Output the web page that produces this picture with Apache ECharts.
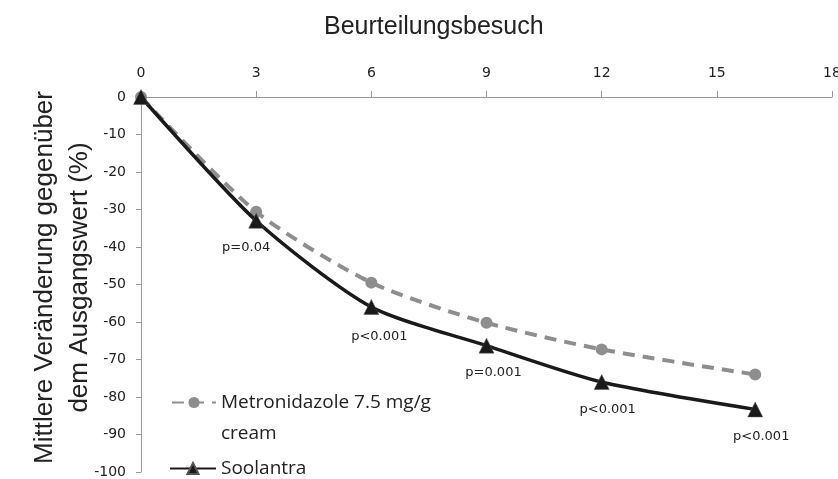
<!DOCTYPE html>
<html>
<head>
<meta charset="utf-8">
<script src="https://cdn.jsdelivr.net/npm/echarts@6/dist/echarts.min.js"></script>
<style>html,body{margin:0;padding:0;background:#fff}#c{width:838px;height:479px}</style>
</head>
<body>
<div id="c"></div>
<script>
const visits = [0, 3, 6, 9, 12, 16];
const metronidazole = [0, -30.6, -49.5, -60.2, -67.3, -74];
const soolantra = [0, -33, -56, -66.3, -76, -83.3];
const pValues = ['', 'p=0.04', 'p<0.001', 'p=0.001', 'p<0.001', 'p<0.001'];
const seriesNames = ['Metronidazole 7.5 mg/g\ncream', 'Soolantra'];

const pOffsets = [[0,0], [-10,0], [8,2], [7,0], [6,0], [6,0]];
const chart = echarts.init(document.getElementById('c'));
const tickFont = 'DejaVu Sans';
const legendText = { fontFamily: 'Open Sans', fontSize: 19, color: '#222', lineHeight: 31 };
chart.setOption({
  backgroundColor: '#fff',
  animation: false,
  title: {
    text: 'Beurteilungsbesuch', left: 319, top: 10,
    textStyle: { fontFamily: 'Liberation Sans', fontSize: 25, fontWeight: 'normal', color: '#222' }
  },
  grid: { left: 141, right: 6, top: 97, bottom: 7, outerBoundsMode: 'none', containLabel: false },
  legend: [
    {
      left: 166, top: 351, itemWidth: 44, itemHeight: 14,
      textStyle: legendText,
      formatter: n => ' \n' + n,
      data: [seriesNames[0]]
    },
    {
      left: 164, top: 448, itemWidth: 46, itemHeight: 14,
      textStyle: legendText,
      data: [seriesNames[1]]
    }
  ],
  xAxis: {
    type: 'value', position: 'top', min: 0, max: 18, interval: 3,
    axisLine: { show: true, lineStyle: { color: '#999', width: 1 } },
    axisTick: { show: true, length: 6, lineStyle: { color: '#999' } },
    axisLabel: { fontFamily: tickFont, fontSize: 14, color: '#222', margin: 17 },
    splitLine: { show: false }
  },
  yAxis: {
    type: 'value', min: -100, max: 0, interval: 10,
    name: 'Mittlere Veränderung gegenüber\ndem Ausgangswert (%)',
    nameLocation: 'middle', nameGap: 44, nameRotate: 90, nameMoveOverlap: false,
    nameTextStyle: { fontFamily: 'Liberation Sans', fontSize: 26, color: '#222', lineHeight: 35, padding: [0, 0, 0, 14] },
    axisLine: { show: true, lineStyle: { color: '#999', width: 1 } },
    axisTick: { show: true, length: 5, lineStyle: { color: '#999' } },
    axisLabel: { fontFamily: tickFont, fontSize: 14, color: '#222', margin: 15 },
    splitLine: { show: false }
  },
  series: [
    {
      name: seriesNames[0], type: 'line', smooth: 0.25,
      data: visits.map((v, i) => [v, metronidazole[i]]),
      symbol: 'circle', symbolSize: 12,
      lineStyle: { color: '#8e8e8e', width: 4, type: [12, 8] },
      itemStyle: { color: '#8e8e8e' }, z: 2
    },
    {
      name: seriesNames[1], type: 'line', smooth: 0.25,
      data: visits.map((v, i) => ({
        value: [v, soolantra[i]],
        label: { show: !!pValues[i], formatter: pValues[i], offset: pOffsets[i] }
      })),
      symbol: 'triangle', symbolSize: 15,
      lineStyle: { color: '#1a1a1a', width: 3.5 },
      itemStyle: { color: '#1a1a1a', borderColor: '#555', borderWidth: 0.5 },
      label: { position: 'bottom', distance: 13, fontFamily: tickFont, fontSize: 13, color: '#222' },
      z: 3
    }
  ]
});
</script>
</body>
</html>
